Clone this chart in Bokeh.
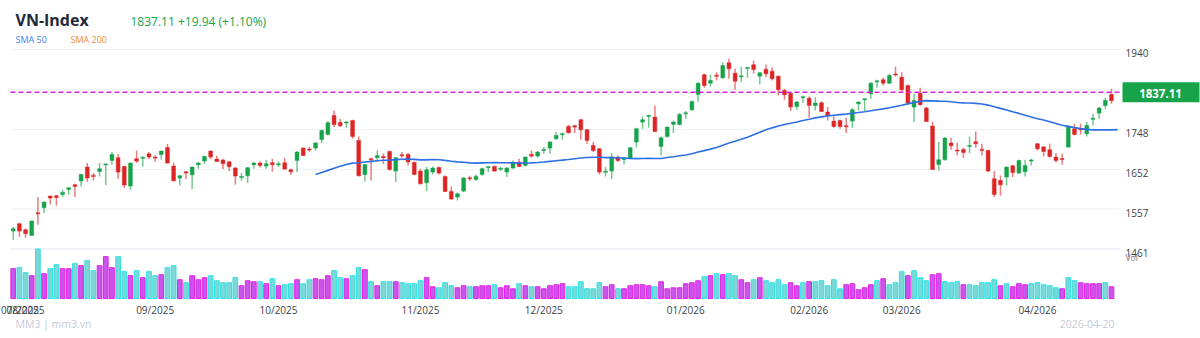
import pandas as pd
from bokeh.plotting import figure
from bokeh.models import Range1d, Label, ColumnDataSource
from bokeh.embed import file_html
from bokeh.resources import INLINE

# ---------------- data ----------------
open_ = [1504, 1521.6, 1507.2, 1493.6, 1547.2, 1560, 1588, 1588.8, 1592, 1604,
         1615.2, 1624, 1657.6, 1637.6, 1647.2, 1663.2, 1673.6, 1680, 1659.2, 1612,
         1677.6, 1679.2, 1689.6, 1681.6, 1688, 1704.8, 1660, 1631.2, 1646.4, 1639.2,
         1663.2, 1672, 1696, 1676.8, 1674.4, 1670.4, 1655.2, 1633.6, 1636.8, 1663.2,
         1667.2, 1660, 1668, 1664, 1668, 1651.2, 1673.6, 1703.2, 1700.8, 1703.2,
         1724, 1736, 1781.6, 1764.8, 1764, 1769.6, 1721.6, 1640, 1677.6, 1680,
         1683, 1695.2, 1648, 1687.2, 1688, 1668.8, 1648, 1620, 1645.6, 1656.8,
         1635.2, 1599.2, 1585.6, 1600, 1632, 1628, 1640, 1657, 1659.2, 1653,
         1645.6, 1655.2, 1669.6, 1661.6, 1688, 1684, 1698.4, 1703.2, 1725.6, 1736,
         1755.2, 1756.8, 1771.2, 1747.2, 1709.6, 1701.6, 1645.6, 1648, 1681.6, 1676.8,
         1679.2, 1717.6, 1765.6, 1780, 1777.6, 1707.2, 1731.2, 1760, 1760, 1786.4,
         1795.2, 1832, 1879.2, 1859.2, 1878, 1872, 1908, 1883.2, 1875, 1895,
         1903.2, 1876, 1892.8, 1888, 1876, 1841.6, 1835.2, 1803.2, 1825, 1823.2,
         1805.6, 1812, 1789.6, 1768, 1769.6, 1756, 1768, 1809.6, 1819.2, 1833.6,
         1863, 1867.2, 1859.2, 1880.5, 1873.6, 1853.6, 1801.6, 1835.2, 1799.2, 1756,
         1664, 1675.2, 1715.2, 1697.6, 1700, 1708, 1718.4, 1699.4, 1697.6, 1629.6,
         1625.6, 1633.6, 1660.8, 1643.2, 1646.4, 1673, 1713.6, 1705.6, 1699.2, 1681.6,
         1677.2, 1705.6, 1749.6, 1749.6, 1737.6, 1773, 1787.2, 1805.6, 1832, 1817.6]
high = [1513.6, 1524, 1510.4, 1529.6, 1585.6, 1575.2, 1589.6, 1590.4, 1603.2, 1609.6,
        1617.6, 1641.6, 1667.2, 1643.2, 1667.2, 1665.6, 1693.6, 1689.6, 1660.8, 1668.8,
        1697.6, 1683.2, 1693.6, 1685.6, 1697.6, 1712.8, 1668.8, 1639.2, 1648, 1659.2,
        1670.4, 1685.6, 1697.6, 1684.8, 1677.6, 1672, 1657.6, 1643.2, 1657.6, 1669.6,
        1671.2, 1675.2, 1677.6, 1670.4, 1680, 1653.6, 1696, 1704.8, 1705.6, 1717.6,
        1748, 1768, 1793.6, 1772.8, 1768, 1771.2, 1731.2, 1665.6, 1680, 1697.6,
        1690, 1697.6, 1681.6, 1693.6, 1691.2, 1670.4, 1653.6, 1657.6, 1659.2, 1659.2,
        1637.6, 1611.2, 1596.8, 1633.6, 1636.8, 1640, 1656, 1659.2, 1661.6, 1659.2,
        1657.6, 1673.6, 1677.6, 1683.2, 1697.6, 1696, 1705.6, 1720, 1741.6, 1740.8,
        1759.2, 1758.4, 1772.8, 1748.8, 1717.6, 1703.2, 1657.6, 1691.2, 1685.6, 1681.6,
        1705.6, 1752, 1779.2, 1784, 1805.6, 1731.2, 1755.2, 1769.6, 1787.2, 1792,
        1817.6, 1861.6, 1881.6, 1880, 1885.6, 1908.8, 1917.6, 1893.6, 1899.2, 1897.6,
        1913.6, 1885.6, 1904, 1897.6, 1877.6, 1845.6, 1837.6, 1816, 1829.6, 1827.2,
        1825.6, 1815.2, 1801.6, 1781.6, 1771.2, 1776, 1799.2, 1816, 1823.2, 1861.6,
        1867.2, 1872, 1881.6, 1899.2, 1885.6, 1855.2, 1833.6, 1848, 1801.6, 1767.2,
        1717.6, 1729.6, 1728, 1716.8, 1704, 1731.2, 1743.2, 1713.6, 1699.2, 1648,
        1637.6, 1659.2, 1662.4, 1675.2, 1675.2, 1677.6, 1715.2, 1708.8, 1713.6, 1691.2,
        1689.6, 1756.8, 1761.6, 1761.6, 1765.6, 1785.6, 1801.6, 1824, 1845.6, 1837.6]
low = [1483.2, 1489.6, 1488, 1492, 1519.2, 1547.2, 1568, 1564.8, 1585.6, 1591.2,
       1585.6, 1611.2, 1622.4, 1625.6, 1635.2, 1614.4, 1663.2, 1628.8, 1608, 1603.2,
       1667.2, 1659.2, 1676.8, 1669.6, 1675.2, 1665.6, 1623.2, 1612.8, 1628.8, 1604.8,
       1653.6, 1665.6, 1676.8, 1669.6, 1652.8, 1648, 1616, 1625.6, 1619.2, 1653.6,
       1656.8, 1653.6, 1646.4, 1657.6, 1651.2, 1638.4, 1645.6, 1684, 1694.4, 1697.6,
       1715.2, 1733.6, 1753.6, 1753.6, 1752, 1725.6, 1635.2, 1623.2, 1625.6, 1669.6,
       1665, 1649.6, 1621.6, 1680, 1661.6, 1638.4, 1616, 1600, 1640, 1640,
       1597.6, 1579.2, 1577.6, 1597.6, 1624, 1624, 1636.8, 1645.6, 1645.6, 1648,
       1633.6, 1653.6, 1657.6, 1659.2, 1680, 1680, 1689.6, 1689.6, 1723.2, 1723.2,
       1738.4, 1739.2, 1723.2, 1713.6, 1693.6, 1640, 1635.2, 1628.8, 1669.6, 1664,
       1677.6, 1704, 1749.6, 1752, 1741.6, 1685.6, 1728, 1739.2, 1757.6, 1773.6,
       1792, 1813.6, 1848, 1851.2, 1865.6, 1869.6, 1869.6, 1843.2, 1861.6, 1872,
       1881.6, 1856, 1873.6, 1865.6, 1829.6, 1819.2, 1792, 1795.2, 1811.2, 1776,
       1793.6, 1789.6, 1769.6, 1752, 1749.6, 1739.2, 1752, 1793.6, 1792, 1821.6,
       1848, 1853.6, 1857.6, 1875.2, 1840, 1809.6, 1765.6, 1805.6, 1765.6, 1651.2,
       1649.6, 1673.6, 1699.2, 1685.6, 1680, 1691.2, 1704, 1685.6, 1645.6, 1585.6,
       1589.6, 1613.6, 1633.6, 1641.6, 1635.2, 1661.6, 1697.6, 1683.2, 1680, 1668.8,
       1664, 1704, 1733.6, 1736, 1731.2, 1757.6, 1773.6, 1797.6, 1809.6, 1800]
close = [1509.6, 1504, 1497.6, 1528, 1546, 1573.6, 1583.2, 1584.8, 1596.8, 1608,
         1611.2, 1640, 1631.2, 1635.2, 1653.6, 1664.8, 1688, 1645.6, 1614.4, 1667.2,
         1672, 1680.8, 1681.6, 1679.2, 1696, 1667.2, 1624.8, 1636.8, 1643.2, 1657.6,
         1667.2, 1683.2, 1681.6, 1671.2, 1665.6, 1658.4, 1636, 1634.4, 1656, 1667.2,
         1661.6, 1665.6, 1663.2, 1664.8, 1652.8, 1646.4, 1693.6, 1685.6, 1698.4, 1715.2,
         1745.6, 1764, 1760, 1756.8, 1765, 1731.2, 1636.8, 1663.2, 1675.2, 1685.6,
         1680, 1652, 1680, 1684.8, 1669.6, 1640, 1617.6, 1651.2, 1655.2, 1643.2,
         1599.2, 1580.8, 1593.6, 1631.2, 1629.6, 1635.2, 1653.6, 1658, 1648, 1654,
         1655.2, 1669.6, 1659.2, 1681.6, 1684, 1693.6, 1699.2, 1717.6, 1733.6, 1737,
         1740, 1753.6, 1747.2, 1721.6, 1697.6, 1645.6, 1647.2, 1681.6, 1673.6, 1677.6,
         1704, 1749.6, 1771.2, 1781, 1743.2, 1728, 1753.6, 1765.6, 1784, 1787.2,
         1815.2, 1859.2, 1853.6, 1865.6, 1876, 1901.6, 1893.6, 1864, 1876, 1896,
         1892, 1884, 1881.6, 1869.6, 1843.2, 1831.2, 1801.6, 1813.6, 1826, 1805.6,
         1811.2, 1791.2, 1781.6, 1755.2, 1755.2, 1755, 1795.2, 1813.6, 1821.6, 1859.2,
         1864, 1859.2, 1877.6, 1879.5, 1843.2, 1811.2, 1817.6, 1807.2, 1767.2, 1652,
         1675.2, 1727.2, 1708.8, 1697, 1692.8, 1709, 1713.6, 1698.4, 1648, 1592,
         1615.2, 1657.6, 1644.8, 1673.6, 1661.6, 1674, 1701.6, 1695.2, 1683.2, 1673.6,
         1676.8, 1755.2, 1736, 1747, 1757.6, 1774, 1799.2, 1817.6, 1817.17, 1837.11]
volume = [1188, 1228, 1028, 908, 1972, 988, 1188, 1348, 1188, 1188,
          1388, 1308, 1508, 1108, 1308, 1668, 1228, 1668, 1068, 908,
          1108, 828, 1068, 908, 948, 1228, 1308, 748, 628, 908,
          748, 828, 908, 708, 628, 628, 828, 508, 708, 668,
          668, 588, 788, 508, 548, 588, 748, 588, 748, 788,
          748, 908, 1108, 828, 788, 908, 1228, 1148, 668, 508,
          668, 668, 668, 628, 588, 588, 708, 828, 468, 428,
          628, 508, 428, 508, 468, 468, 508, 508, 548, 428,
          508, 388, 588, 508, 468, 468, 388, 508, 548, 588,
          468, 468, 668, 388, 388, 628, 468, 548, 388, 388,
          508, 548, 548, 508, 468, 668, 388, 428, 428, 588,
          628, 708, 868, 908, 988, 948, 988, 908, 748, 628,
          748, 828, 708, 628, 748, 548, 628, 508, 628, 668,
          668, 708, 508, 748, 388, 548, 588, 348, 428, 548,
          708, 788, 548, 628, 1068, 908, 1108, 828, 708, 948,
          988, 668, 628, 668, 548, 548, 508, 628, 628, 748,
          508, 588, 468, 588, 548, 588, 628, 548, 508, 428,
          388, 828, 708, 628, 588, 588, 588, 628, 468, 428]
# volume bar colour class: t = teal, m = magenta
vol_side = ("mttmtmttmmtmttmmmttmtmttmttmtmmmtttttmmmtmtmttmttmmmttmttmtmttm"
            "ttttmmtttmmtmmmtmmmtmtmmmmmttttttmmtmmmmmtmmmmmmmtmtmttmmtmttttm"
            "mtmtttttmmmmmtmtttmtttmmtttmtttttmtmmmtttttmttmmmmtm")
month_idx = [1, 3, 24, 44, 67, 87, 110, 130, 145, 167]
month_lbl = ["07/2025", "08/2025", "09/2025", "10/2025", "11/2025", "12/2025",
             "01/2026", "02/2026", "03/2026", "04/2026"]
price_ticks = [1461, 1557, 1652, 1748, 1940]
grid_ticks = [1461, 1557, 1652, 1748, 1844, 1940]
last_date = "2026-04-20"

# ---------------- build ----------------
W, H = 1200, 338
n = len(close)
idx = list(range(1, n + 1))
GREEN, RED = "#16a34a", "#dc2626"
col = [GREEN if c >= o else RED for o, c in zip(open_, close)]
top = [max(o, c) for o, c in zip(open_, close)]
bot = [min(o, c) for o, c in zip(open_, close)]
for i in range(n):
    if top[i] - bot[i] < 2.4:
        m = (top[i] + bot[i]) / 2
        top[i], bot[i] = m + 1.2, m - 1.2
sma50 = pd.Series(close).rolling(50).mean().tolist()

vfill = ["#7fd6d6" if s == "t" else "#c955ea" for s in vol_side]
vline = ["#28e4e4" if s == "t" else "#e620e8" for s in vol_side]

src = ColumnDataSource(dict(x=idx, o=open_, h=high, l=low, c=close, top=top, bot=bot,
                            col=col, v=volume, vf=vfill, vl=vline))

# plot area (pixels) where the price panel lives: x 10..1119, price y-scale 2.401/px
X0, X1 = 0.56, 180.3
kx = 1109 / (X1 - X0)
xr = Range1d(X0 - 10 / kx, X1 + 81 / kx)
ky = 2.40101
ytop = 2057.6
yr = Range1d(ytop - H * ky, ytop)
vmax = max(volume)
vpp = vmax / 49.5  # volume per pixel
vol_r = Range1d(-(H - 298) * vpp, 298 * vpp)

def px2x(px):
    return X0 + (px - 10) / kx

p = figure(width=W, height=H, output_backend="svg", toolbar_location=None,
           x_range=xr, y_range=yr, min_border=0, x_axis_type=None, y_axis_type=None)
p.extra_y_ranges = {"vol": vol_r}
p.outline_line_color = None
p.grid.grid_line_color = None
p.background_fill_color = "white"
p.border_fill_color = "white"

# grid lines
gcol = ["#e2e7f0" if g == 1461 else "#eff1f4" for g in grid_ticks]
p.segment(x0=[X0] * len(grid_ticks), x1=[X1] * len(grid_ticks), y0=grid_ticks, y1=grid_ticks,
          line_color=gcol, line_width=1)

# volume
p.vbar(x="x", width=0.76, top="v", bottom=0, source=src, y_range_name="vol",
       fill_color="vf", line_color="vl", line_width=1)

# candles
p.segment(x0="x", y0="l", x1="x", y1="h", source=src, line_color="col", line_alpha=0.6, line_width=1.5)
p.vbar(x="x", width=0.62, top="top", bottom="bot", source=src, fill_color="col", line_color="col", line_width=0.5)

# SMA 50
p.line(idx, sma50, line_color="#2f6fe4", line_width=1.6)

# last price line
p.segment(x0=[X0], x1=[X1], y0=[close[-1]], y1=[close[-1]], line_color="#de1fe0",
          line_dash="5 3", line_width=1.5)

# last price tag box
p.quad(left=[px2x(1122)], right=[px2x(1199)], top=[close[-1] + 10 * ky], bottom=[close[-1] - 10 * ky],
       fill_color="#16a34a", line_color=None)

def lab(x, y, text, size, color, bold=False, align="left", xu="screen", yu="screen", **kw):
    l = Label(x=x, y=y, x_units=xu, y_units=yu, text=text,
              text_font="Open Sans", text_font_size=size, text_color=color,
              text_font_style="bold" if bold else "normal", text_align=align,
              text_baseline="middle", **kw)
    p.add_layout(l)
    return l

# price tick labels (right)
for t in price_ticks:
    lab(1125, t, str(t), "10px", "#3a3f4a", yu="data", y_offset=-4)
# month labels (bottom)
for i, m in zip(month_idx, month_lbl):
    if i == month_idx[0]:
        lab(0.5, H - 309.5, m, "10px", "#3a3f4a", align="left")
    else:
        lab(i, H - 309.5, m, "10px", "#3a3f4a", align="center", xu="data")

# header & footer texts
lab(15, H - 19, "VN-Index", "16px", "#1f2937", bold=True)
chg = close[-1] - close[-2]
lab(130, H - 20.5, f"{close[-1]:.2f} +{chg:.2f} (+{chg / close[-2] * 100:.2f}%)", "12px", "#16a34a")
lab(15, H - 38.5, "SMA 50", "9px", "#3b82f6")
lab(70, H - 38.5, "SMA 200", "9px", "#f08a3c")
lab(15, H - 323.5, "MM3 | mm3.vn", "10.5px", "#c5cbd7")
lab(1114, H - 323.5, last_date, "10.5px", "#c5cbd7", align="right")
lab(1125, H - 257, "Vol", "8.5px", "#6b7280")
lab(1160, close[-1], f"{close[-1]:.2f}", "11.5px", "white", bold=True, align="center",
    yu="data", y_offset=-1.5)

open("out.html", "w").write(file_html(p, INLINE))
